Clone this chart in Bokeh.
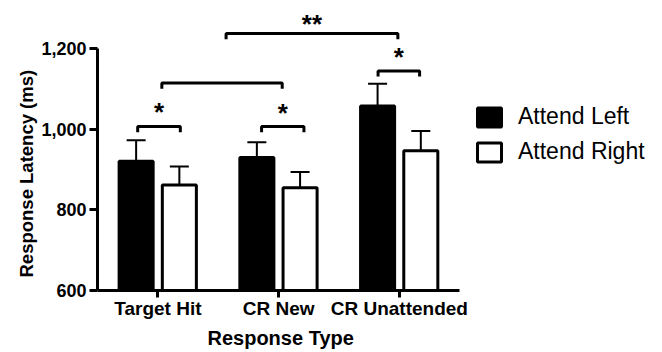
import numpy as np
from bokeh.plotting import figure
from bokeh.models import (ColumnDataSource, Range1d, FixedTicker, NumeralTickFormatter,
                          Whisker, TeeHead, Legend, LegendItem, Title)
from bokeh.core.properties import value
from bokeh.embed import file_html
from bokeh.resources import INLINE

# ---- data ----
categories = ["Target Hit", "CR New", "CR Unattended"]
attend_left = [921, 930, 1058]
attend_left_sem = [52, 38, 55]
attend_right = [862, 855, 947]
attend_right_sem = [46, 39, 49]
y_ticks = [600, 800, 1000, 1200]

# significance brackets (start, end, level) and their labels
bracket_x0 = [-0.167, 0.859, 1.824, 0.033, 0.565]
bracket_x1 = [0.186, 1.21, 2.168, 1.03, 1.988]
bracket_y = [1007, 1007, 1145, 1115, 1238]
bracket_label = ["*", "*", "*", "", "**"]
label_y = [1044, 1041, 1179, 0, 1262]

FONT = "Liberation Sans"

p = figure(width=662, height=352, x_range=Range1d(-0.5, 4.18), y_range=Range1d(600, 1305),
           output_backend="svg", toolbar_location=None,
           min_border_left=97, min_border_right=0, min_border_top=6, min_border_bottom=62)
p.outline_line_color = None
p.grid.visible = False
p.background_fill_color = "white"
p.border_fill_color = "white"

idx = np.arange(len(categories))
off_l, off_r, bw = -0.18, 0.178, 0.282

src_l = ColumnDataSource(dict(x=idx + off_l, top=attend_left,
                              upper=np.array(attend_left) + np.array(attend_left_sem)))
src_r = ColumnDataSource(dict(x=idx + off_r, top=attend_right,
                              upper=np.array(attend_right) + np.array(attend_right_sem)))

r1 = p.vbar(x="x", top="top", bottom=600, width=bw, fill_color="black",
            line_color="black", line_width=3, source=src_l)
r2 = p.vbar(x="x", top="top", bottom=600, width=bw, fill_color="white",
            line_color="black", line_width=3, source=src_r)

for src in (src_l, src_r):
    w = Whisker(base="x", lower="top", upper="upper", source=src, line_width=2,
                line_color="black",
                upper_head=TeeHead(size=19, line_width=2, line_color="black"),
                lower_head=None)
    p.add_layout(w)

# brackets
drop = 14
xs, ys = [], []
for a, b, yy in zip(bracket_x0, bracket_x1, bracket_y):
    xs.append([a, a, b, b])
    ys.append([yy - drop, yy, yy, yy - drop])
p.multi_line(xs, ys, line_color="black", line_width=3)

lx, ly, lt = [], [], []
for a, b, t, yy in zip(bracket_x0, bracket_x1, bracket_label, label_y):
    if t:
        lx.append((a + b) / 2)
        ly.append(yy)
        lt.append(t)
p.text(x=lx, y=ly, text=lt, text_align="center", text_baseline="alphabetic",
       text_font=value(FONT), text_font_style="bold", text_font_size="26px",
       text_color="black")

# axes
for ax in (p.xaxis[0], p.yaxis[0]):
    ax.axis_line_width = 3
    ax.axis_line_color = "black"
    ax.major_tick_line_width = 3
    ax.major_tick_line_color = "black"
    ax.major_tick_in = 0
    ax.minor_tick_in = 0
    ax.minor_tick_out = 0
    ax.major_label_text_font = FONT
    ax.major_label_text_font_style = "bold"
    ax.major_label_text_color = "black"

xa = p.xaxis[0]
xa.ticker = FixedTicker(ticks=list(idx))
xa.major_label_overrides = {int(i): c for i, c in zip(idx, categories)}
xa.bounds = (-0.5, 2.5)
xa.major_tick_out = 7
xa.major_label_standoff = 0
xa.major_label_text_font_size = "19px"

ya = p.yaxis[0]
ya.ticker = FixedTicker(ticks=y_ticks)
ya.formatter = NumeralTickFormatter(format="0,0")
ya.bounds = (y_ticks[0], y_ticks[-1])
ya.major_tick_out = 8
ya.major_label_standoff = 3
ya.major_label_text_font_size = "18px"

# axis titles, centred on the drawn axes rather than on the whole frame
p.add_layout(Title(text="Response Type", align="left", offset=110, standoff=7,
                   text_font=FONT, text_font_style="bold", text_font_size="20px",
                   text_color="black"), "below")
p.add_layout(Title(text="Response Latency (ms)", align="left", offset=13, standoff=4,
                   text_font=FONT, text_font_style="bold", text_font_size="18.5px",
                   text_color="black"), "left")

legend = Legend(items=[LegendItem(label="Attend Left", renderers=[r1]),
                       LegendItem(label="Attend Right", renderers=[r2])],
                location=(377, 125), border_line_color=None, background_fill_alpha=0,
                padding=0, margin=0, glyph_width=30, glyph_height=24, label_height=24,
                label_standoff=14, spacing=8, label_text_font=FONT,
                label_text_font_size="23px", label_text_color="black")
p.add_layout(legend)

open("out.html", "w").write(file_html(p, INLINE))
